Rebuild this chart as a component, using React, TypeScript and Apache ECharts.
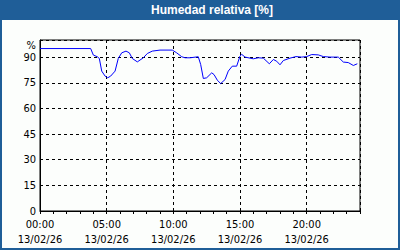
import React, { useEffect, useRef } from "react";
import * as echarts from "echarts";

const TITLE = "Humedad relativa [%]";
const DATE_LABEL = "13/02/26";
const Y_UNIT = "%";

// time in hours since 00:00 13/02/26
const hours = [
  0.0, 3.8, 4.0, 4.3, 4.45, 4.63, 4.88, 5.08, 5.3, 5.63, 5.87, 6.13, 6.45, 6.7, 6.92, 7.3,
  7.75, 8.05, 8.42, 9.0, 9.92, 10.25, 10.63, 10.88, 11.25, 11.87, 12.05, 12.25, 12.5, 12.88,
  13.05, 13.3, 13.55, 13.88, 14.12, 14.42, 14.75, 15.0, 15.13, 15.38, 16.0, 16.37, 16.75,
  17.2, 17.5, 17.75, 18.0, 18.25, 18.75, 19.2, 19.63, 20.0, 20.38, 20.87, 21.25, 21.75,
  22.37, 22.75, 23.12, 23.5, 23.8,
];
// relative humidity %
const humidity = [
  95.0, 95.0, 91.2, 90.2, 89.2, 81.8, 78.9, 77.9, 78.9, 81.8, 89.2, 92.5, 93.5, 92.5, 89.2, 87.2,
  89.6, 92.1, 93.5, 94.1, 94.1, 92.5, 90.2, 89.6, 89.6, 90.2, 85.7, 77.5, 77.9, 80.8,
  79.8, 76.5, 74.5, 76.9, 81.8, 84.7, 84.7, 90.6, 91.6, 90.0, 89.0, 89.6, 89.4,
  86.1, 88.6, 87.6, 85.5, 88.0, 89.4, 90.3, 90.0, 90.3, 91.5, 91.3, 90.3, 90.0,
  90.0, 87.1, 86.8, 85.1, 86.1,
];

const FONT = "DejaVu Sans Condensed";
const BLUE = "#1f5e98";

export default function App() {
  const ref = useRef<HTMLDivElement>(null);
  useEffect(() => {
    if (!ref.current) return;
    const chart = echarts.init(ref.current, undefined, { renderer: "svg" });
    const pad = (n: number) => (n < 10 ? "0" + n : String(n));
    chart.setOption({
      animation: false,
      backgroundColor: "#fcfefc",
      textStyle: { fontFamily: FONT },
      graphic: [
        { type: "rect", shape: { x: 0, y: 0, width: 400, height: 20 }, style: { fill: BLUE }, z: 10 },
        { type: "rect", shape: { x: 1, y: 1, width: 398, height: 248 }, style: { fill: "none", stroke: BLUE, lineWidth: 2 }, z: 10 },
        {
          type: "text", x: 212, y: 10, z: 11,
          style: { text: TITLE, fill: "#fff", font: `bold 12px 'Liberation Sans'`, align: "center", verticalAlign: "middle" },
        },
        {
          type: "text", x: 36, y: 45, z: 11,
          style: { text: Y_UNIT, fill: "#000", font: `11px '${FONT}'`, align: "right", verticalAlign: "middle" },
        },
      ],
      grid: { left: 40, right: 40, top: 40, bottom: 39, show: true, borderColor: "#000", borderWidth: 1, backgroundColor: "transparent" },
      xAxis: [
        {
          type: "value", min: 0, max: 24, interval: 5,
          axisLine: { show: true, lineStyle: { color: "#000" } },
          axisTick: { show: false },
          splitLine: { show: true, lineStyle: { color: "#000", type: [3, 3], width: 1 } },
          axisLabel: {
            color: "#000", fontFamily: FONT, fontSize: 11, lineHeight: 15, margin: 6,
            showMaxLabel: false,
            formatter: (v: number) => (v >= 24 ? "" : `${pad(v)}:00\n${DATE_LABEL}`),
          },
        },
        {
          type: "value", min: 0, max: 24, interval: 1, position: "bottom",
          axisLine: { show: false },
          axisTick: { show: true, length: 3, lineStyle: { color: "#000" } },
          splitLine: { show: false },
          axisLabel: { show: false },
        },
      ],
      yAxis: {
        type: "value", min: 0, max: 100, interval: 15,
        axisLine: { show: true, lineStyle: { color: "#000" } },
        axisTick: { show: false },
        splitLine: { show: true, lineStyle: { color: "#000", type: [3, 3], width: 1 } },
        axisLabel: {
          color: "#000", fontFamily: FONT, fontSize: 11, margin: 4,
          formatter: (v: number) => (v >= 100 ? "" : String(v)),
        },
      },
      series: [
        {
          type: "line",
          xAxisIndex: 0,
          data: hours.map((h, i) => [h, humidity[i]]),
          showSymbol: false,
          lineStyle: { color: "#0000ff", width: 1 },
          z: 5,
        },
      ],
    });
    return () => chart.dispose();
  }, []);
  return <div ref={ref} style={{ position: "fixed", left: 0, top: 0, width: 400, height: 250 }} />;
}
